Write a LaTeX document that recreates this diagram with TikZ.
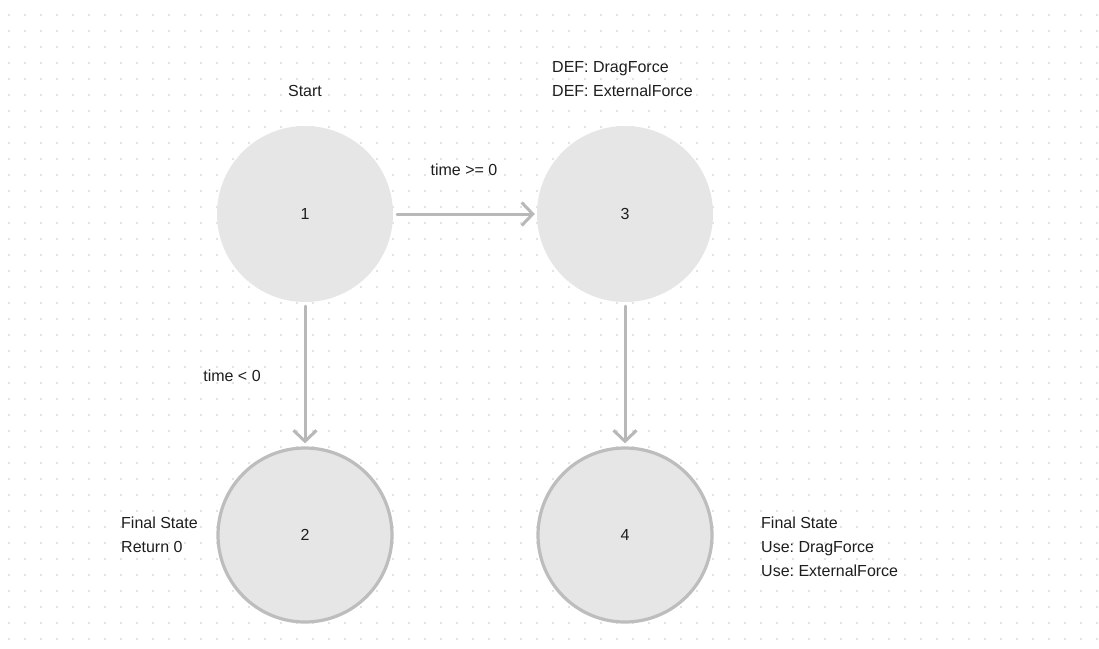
\documentclass[tikz,border=0pt]{standalone}
\usepackage{fontspec}
\setmainfont{Liberation Sans}
\usetikzlibrary{arrows.meta}
\definecolor{dotc}{HTML}{E3E3E3}
\definecolor{fillc}{HTML}{E6E6E6}
\definecolor{borderc}{HTML}{BDBDBD}
\definecolor{arrowc}{HTML}{B8B8B8}
\definecolor{textc}{HTML}{1E1E1E}
\frenchspacing
\begin{document}
\begin{tikzpicture}[x=1pt,y=-1pt,
  txt/.style={inner sep=0pt, text=textc, font=\fontsize{16}{24}\selectfont},
  state/.style={circle, fill=fillc, minimum size=176pt, inner sep=0pt, text=textc, font=\fontsize{16}{24}\selectfont},
  final/.style={state, draw=borderc, line width=3.2pt, minimum size=174pt},
  conn/.style={draw=arrowc, line width=3pt, line cap=round, -{Straight Barb[length=11pt,width=23pt,line width=3pt]}}]
\useasboundingbox (0,0) rectangle (1099,648);
\fill[white] (0,0) rectangle (1099,648);
\foreach \x in {9,25,...,1097}{
  \foreach \y in {15,31,...,639}{
    \fill[dotc] (\x-1,\y-1) rectangle ++(2,2);
  }
}
\node[state] (n1) at (305,214) {1};
\node[state] (n3) at (625,214) {3};
\node[final] (n2) at (305,535) {2};
\node[final] (n4) at (625,535) {4};

\draw[conn, shorten <=4pt, shorten >=2pt] (n1) -- (n3);
\draw[conn, shorten <=4pt, shorten >=3pt] (n1) -- (n2);
\draw[conn, shorten <=4pt, shorten >=3pt] (n3) -- (n4);

\node[txt] (lstart) at (305,91) {Start};
\node[txt, anchor=west, align=left] (ldef) at (552,79) {DEF: DragForce\\DEF: ExternalForce};
\node[txt] (lge) at (464,170) {time >= 0};
\node[txt] (llt) at (232,376) {time < 0};
\node[txt, anchor=west, align=left] (lf2) at (121,535) {Final State\\Return 0};
\node[txt, anchor=west, align=left] (lf4) at (761,547) {Final State\\Use: DragForce\\Use: ExternalForce};
\end{tikzpicture}
\end{document}
